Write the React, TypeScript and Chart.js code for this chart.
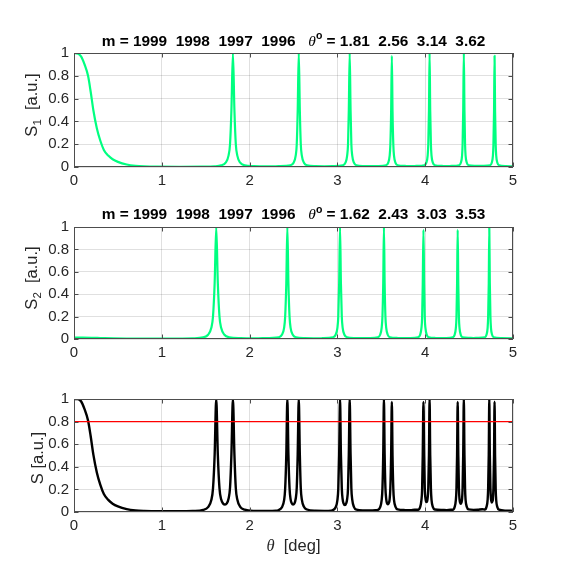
import { useEffect, useRef } from "react";
import { Chart, registerables } from "chart.js";

Chart.register(...registerables);

// ---------- data ----------
const xTicks = [0, 1, 2, 3, 4, 5];
const yTicks = [0, 0.2, 0.4, 0.6, 0.8, 1];
const modeNumbers = [1999, 1998, 1997, 1996];
const s1Angles = ["1.81", "2.56", "3.14", "3.62"];
const s2Angles = ["1.62", "2.43", "3.03", "3.53"];
const threshold = 0.8;

// S1: [theta (deg), signal]
const s1Points: [number, number][] = [
  [0, 1], [0.04, 0.995], [0.08, 0.97], [0.12, 0.9], [0.16, 0.8], [0.19, 0.66], [0.22, 0.5],
  [0.26, 0.34], [0.3, 0.23], [0.34, 0.15], [0.39, 0.1], [0.44, 0.068], [0.5, 0.045],
  [0.6, 0.022], [0.7, 0.011], [0.8, 0.006], [0.95, 0.003], [1.2, 0.002], [1.45, 0.003],
  [1.6, 0.006], [1.677, 0.015], [1.727, 0.038], [1.76, 0.1], [1.777, 0.2], [1.793, 0.5],
  [1.81, 1], [1.827, 0.5], [1.843, 0.2], [1.86, 0.1], [1.893, 0.038], [1.943, 0.015],
  [2.05, 0.007], [2.2, 0.005], [2.33, 0.007],
  [2.466, 0.015], [2.501, 0.038], [2.525, 0.1], [2.537, 0.2], [2.548, 0.5], [2.56, 1],
  [2.572, 0.5], [2.583, 0.2], [2.595, 0.1], [2.619, 0.038], [2.654, 0.015],
  [2.75, 0.007], [2.85, 0.006], [2.95, 0.007],
  [3.063, 0.015], [3.092, 0.038], [3.111, 0.1], [3.121, 0.2], [3.13, 0.5], [3.14, 1],
  [3.15, 0.5], [3.159, 0.2], [3.169, 0.1], [3.188, 0.038], [3.217, 0.015],
  [3.3, 0.008], [3.38, 0.007], [3.46, 0.008],
  [3.554, 0.015], [3.578, 0.037], [3.595, 0.097], [3.603, 0.194], [3.612, 0.485], [3.62, 0.975],
  [3.628, 0.485], [3.637, 0.194], [3.645, 0.097], [3.662, 0.037], [3.686, 0.015],
  [3.77, 0.009], [3.835, 0.008], [3.9, 0.009],
  [3.991, 0.015], [4.013, 0.038], [4.028, 0.1], [4.035, 0.2], [4.043, 0.5], [4.05, 1],
  [4.057, 0.5], [4.065, 0.2], [4.072, 0.1], [4.087, 0.038], [4.109, 0.015],
  [4.19, 0.009], [4.245, 0.008], [4.3, 0.009],
  [4.386, 0.015], [4.406, 0.038], [4.42, 0.1], [4.426, 0.2], [4.433, 0.5], [4.44, 1],
  [4.447, 0.5], [4.454, 0.2], [4.46, 0.1], [4.474, 0.038], [4.494, 0.015],
  [4.57, 0.01], [4.615, 0.009], [4.66, 0.01],
  [4.74, 0.015], [4.758, 0.037], [4.771, 0.097], [4.777, 0.194], [4.784, 0.485], [4.79, 0.975],
  [4.796, 0.485], [4.803, 0.194], [4.809, 0.097], [4.822, 0.037], [4.84, 0.015],
  [4.92, 0.008], [5, 0.006],
];

// S2: [theta (deg), signal]
const s2Points: [number, number][] = [
  [0, 0.012], [0.1, 0.012], [0.2, 0.011], [0.3, 0.009], [0.45, 0.006], [0.6, 0.004],
  [0.8, 0.003], [1.0, 0.003], [1.2, 0.004], [1.35, 0.006],
  [1.472, 0.015], [1.527, 0.038], [1.564, 0.1], [1.583, 0.2], [1.602, 0.5], [1.62, 1],
  [1.638, 0.5], [1.657, 0.2], [1.676, 0.1], [1.713, 0.038], [1.768, 0.015],
  [1.9, 0.007], [2.025, 0.005], [2.15, 0.007],
  [2.332, 0.015], [2.368, 0.038], [2.393, 0.1], [2.405, 0.2], [2.418, 0.5], [2.43, 1],
  [2.442, 0.5], [2.455, 0.2], [2.467, 0.1], [2.492, 0.038], [2.528, 0.015],
  [2.63, 0.007], [2.73, 0.006], [2.83, 0.007],
  [2.951, 0.015], [2.98, 0.038], [3.0, 0.1], [3.01, 0.2], [3.02, 0.5], [3.03, 1],
  [3.04, 0.5], [3.05, 0.2], [3.06, 0.1], [3.08, 0.038], [3.109, 0.015],
  [3.2, 0.008], [3.28, 0.007], [3.36, 0.008],
  [3.462, 0.015], [3.487, 0.038], [3.504, 0.1], [3.513, 0.2], [3.522, 0.5], [3.53, 1],
  [3.538, 0.5], [3.547, 0.2], [3.556, 0.1], [3.573, 0.038], [3.598, 0.015],
  [3.69, 0.009], [3.755, 0.008], [3.82, 0.009],
  [3.92, 0.015], [3.942, 0.037], [3.957, 0.097], [3.965, 0.194], [3.972, 0.485], [3.98, 0.975],
  [3.988, 0.485], [3.995, 0.194], [4.003, 0.097], [4.018, 0.037], [4.04, 0.015],
  [4.12, 0.009], [4.175, 0.008], [4.23, 0.009],
  [4.315, 0.015], [4.335, 0.037], [4.349, 0.097], [4.356, 0.194], [4.363, 0.485], [4.37, 0.975],
  [4.377, 0.485], [4.384, 0.194], [4.391, 0.097], [4.405, 0.037], [4.425, 0.015],
  [4.5, 0.01], [4.55, 0.009], [4.6, 0.01],
  [4.68, 0.015], [4.698, 0.038], [4.711, 0.1], [4.717, 0.2], [4.724, 0.5], [4.73, 1],
  [4.736, 0.5], [4.743, 0.2], [4.749, 0.1], [4.762, 0.038], [4.78, 0.015],
  [4.87, 0.008], [5, 0.006],
];

// S (total): [theta (deg), signal]
const sPoints: [number, number][] = [
  [0, 1], [0.04, 1], [0.08, 0.98], [0.12, 0.91], [0.16, 0.81], [0.19, 0.67], [0.22, 0.51],
  [0.26, 0.35], [0.3, 0.24], [0.34, 0.16], [0.39, 0.107], [0.44, 0.074], [0.5, 0.05],
  [0.6, 0.026], [0.7, 0.014], [0.8, 0.009], [0.95, 0.006], [1.2, 0.006], [1.35, 0.009],
  [1.472, 0.019], [1.527, 0.043], [1.564, 0.106], [1.583, 0.207], [1.602, 0.507], [1.62, 1],
  [1.638, 0.509], [1.657, 0.21], [1.676, 0.112], [1.7, 0.073], [1.72, 0.066], [1.74, 0.076],
  [1.76, 0.117], [1.777, 0.215], [1.793, 0.512], [1.81, 1], [1.827, 0.51], [1.843, 0.21],
  [1.86, 0.11], [1.893, 0.046], [1.943, 0.021], [2.05, 0.01], [2.2, 0.009], [2.3, 0.011],
  [2.332, 0.018], [2.368, 0.042], [2.393, 0.105], [2.405, 0.206], [2.418, 0.508], [2.43, 1],
  [2.442, 0.51], [2.455, 0.21], [2.467, 0.112], [2.48, 0.078], [2.495, 0.066], [2.51, 0.075],
  [2.525, 0.117], [2.537, 0.214], [2.548, 0.512], [2.56, 1], [2.572, 0.51], [2.583, 0.21],
  [2.595, 0.11], [2.619, 0.046], [2.654, 0.022], [2.75, 0.011], [2.85, 0.01], [2.93, 0.012],
  [2.951, 0.018], [2.98, 0.042], [3.0, 0.105], [3.01, 0.206], [3.02, 0.508], [3.03, 1],
  [3.04, 0.51], [3.05, 0.21], [3.06, 0.112], [3.07, 0.076], [3.085, 0.061], [3.1, 0.076],
  [3.111, 0.115], [3.121, 0.213], [3.13, 0.511], [3.14, 1], [3.15, 0.51], [3.159, 0.21],
  [3.169, 0.11], [3.188, 0.046], [3.217, 0.021], [3.3, 0.014], [3.38, 0.013], [3.44, 0.016],
  [3.462, 0.019], [3.487, 0.043], [3.504, 0.106], [3.513, 0.207], [3.522, 0.508], [3.53, 1],
  [3.538, 0.51], [3.547, 0.212], [3.556, 0.115], [3.565, 0.078], [3.575, 0.068], [3.585, 0.078],
  [3.595, 0.112], [3.603, 0.21], [3.612, 0.5], [3.62, 0.975], [3.628, 0.49], [3.637, 0.2],
  [3.645, 0.105], [3.662, 0.046], [3.686, 0.023], [3.77, 0.017], [3.835, 0.016], [3.88, 0.02],
  [3.92, 0.02], [3.942, 0.043], [3.957, 0.105], [3.965, 0.204], [3.972, 0.497], [3.98, 0.975],
  [3.988, 0.5], [3.995, 0.215], [4.005, 0.109], [4.015, 0.087], [4.025, 0.107], [4.035, 0.215],
  [4.043, 0.51], [4.05, 1], [4.057, 0.505], [4.065, 0.207], [4.072, 0.107], [4.087, 0.045],
  [4.109, 0.022], [4.19, 0.018], [4.245, 0.017], [4.29, 0.02],
  [4.315, 0.02], [4.335, 0.043], [4.349, 0.105], [4.356, 0.204], [4.363, 0.497], [4.37, 0.975],
  [4.377, 0.5], [4.384, 0.21], [4.391, 0.112], [4.398, 0.082], [4.405, 0.073], [4.412, 0.082],
  [4.42, 0.116], [4.426, 0.212], [4.433, 0.51], [4.44, 1], [4.447, 0.505], [4.454, 0.207],
  [4.46, 0.107], [4.474, 0.046], [4.494, 0.023], [4.55, 0.019], [4.6, 0.02], [4.65, 0.025],
  [4.68, 0.022], [4.698, 0.045], [4.711, 0.107], [4.717, 0.208], [4.724, 0.51], [4.73, 1],
  [4.736, 0.51], [4.743, 0.215], [4.749, 0.12], [4.753, 0.097], [4.76, 0.083], [4.767, 0.097],
  [4.771, 0.114], [4.777, 0.21], [4.784, 0.495], [4.79, 0.975], [4.796, 0.49], [4.803, 0.2],
  [4.809, 0.102], [4.822, 0.043], [4.84, 0.02], [4.92, 0.012], [5, 0.01],
];

// ---------- styling ----------
const W = 568;
const H = 576;
const PLOT_LEFT = 74;
const PLOT_RIGHT = 513;
const X_AXIS_H = 30;
const GREEN = "#00ff80";
const AXIS_COLOR = "#4d4d4d";
const TEXT_COLOR = "#262626";
const SANS = "'Liberation Sans', Arial, Helvetica, sans-serif";
const SERIF = "'Liberation Serif', 'Times New Roman', serif";

type Seg = { t: string; font: string; dy?: number };

function drawRich(ctx: CanvasRenderingContext2D, segs: Seg[], x: number, y: number, rotate: boolean, color: string) {
  ctx.save();
  ctx.translate(x, y);
  if (rotate) ctx.rotate(-Math.PI / 2);
  ctx.fillStyle = color;
  ctx.textBaseline = "alphabetic";
  ctx.textAlign = "left";
  const widths = segs.map((s) => {
    ctx.font = s.font;
    return ctx.measureText(s.t).width;
  });
  const total = widths.reduce((a, b) => a + b, 0);
  let cx = -total / 2;
  segs.forEach((s, i) => {
    ctx.font = s.font;
    ctx.fillText(s.t, cx, s.dy || 0);
    cx += widths[i];
  });
  ctx.restore();
}

type Deco = {
  title?: { segs: Seg[]; y: number };
  ylabel: { segs: Seg[]; x: number; y: number };
  xlabel?: { segs: Seg[]; y: number };
};

function decoPlugin(deco: Deco) {
  return {
    id: "deco",
    afterDraw(chart: any) {
      const ctx: CanvasRenderingContext2D = chart.ctx;
      const { left, right, top, bottom } = chart.chartArea;
      const xs = chart.scales.x;
      const ys = chart.scales.y;
      ctx.save();
      ctx.strokeStyle = AXIS_COLOR;
      ctx.lineWidth = 1;
      ctx.beginPath();
      ctx.rect(left + 0.5, top + 0.5, right - left - 1, bottom - top - 1);
      const tl = 4.5;
      xTicks.forEach((v) => {
        const px = Math.round(xs.getPixelForValue(v)) + 0.5;
        ctx.moveTo(px, bottom);
        ctx.lineTo(px, bottom - tl);
        ctx.moveTo(px, top);
        ctx.lineTo(px, top + tl);
      });
      yTicks.forEach((v) => {
        const py = Math.round(ys.getPixelForValue(v)) + 0.5;
        ctx.moveTo(left, py);
        ctx.lineTo(left + tl, py);
        ctx.moveTo(right, py);
        ctx.lineTo(right - tl, py);
      });
      ctx.stroke();
      ctx.restore();
      const cxp = (left + right) / 2;
      if (deco.title) drawRich(ctx, deco.title.segs, cxp, deco.title.y, false, "#000");
      drawRich(ctx, deco.ylabel.segs, deco.ylabel.x, deco.ylabel.y, true, TEXT_COLOR);
      if (deco.xlabel) drawRich(ctx, deco.xlabel.segs, cxp, deco.xlabel.y, false, TEXT_COLOR);
    },
  };
}

const TITLE_SIZE = 15.4;
const LABEL_SIZE = 16.5;
const BOLD = `bold ${TITLE_SIZE}px ${SANS}`;
const NORMAL = `${LABEL_SIZE}px ${SANS}`;
const SMALL = `11.5px ${SANS}`;

function titleSegs(angles: string[]): Seg[] {
  return [
    { t: "m = " + modeNumbers.join("  ") + "   ", font: BOLD },
    { t: "\u03B8", font: `italic ${TITLE_SIZE}px ${SERIF}` },
    { t: "o", font: `bold 10.5px ${SANS}`, dy: -6.5 },
    { t: " = " + angles.join("  "), font: BOLD },
  ];
}

function makeConfig(datasets: any[], top: number, bottom: number, deco: Deco) {
  const gridColor = "rgba(0,0,0,0.12)";
  const tickFont = { family: SANS, size: 15 };
  return {
    type: "line",
    data: { datasets },
    options: {
      animation: false,
      responsive: false,
      maintainAspectRatio: false,
      events: [],
      layout: { padding: { left: 0, right: W - PLOT_RIGHT, top, bottom: H - bottom - X_AXIS_H } },
      plugins: { legend: { display: false }, tooltip: { enabled: false }, title: { display: false } },
      elements: { point: { radius: 0 }, line: { borderJoinStyle: "round", borderCapStyle: "round" } },
      scales: {
        x: {
          type: "linear",
          min: 0,
          max: 5,
          afterBuildTicks: (s: any) => {
            s.ticks = xTicks.map((v) => ({ value: v }));
          },
          afterFit: (s: any) => {
            s.height = X_AXIS_H;
          },
          grid: { color: gridColor, drawTicks: false },
          border: { display: false },
          ticks: {
            font: tickFont,
            color: TEXT_COLOR,
            padding: 5,
            maxRotation: 0,
            autoSkip: false,
            callback: (v: number) => String(v),
          },
        },
        y: {
          type: "linear",
          min: 0,
          max: 1,
          afterBuildTicks: (s: any) => {
            s.ticks = yTicks.map((v) => ({ value: v }));
          },
          afterFit: (s: any) => {
            s.width = PLOT_LEFT;
          },
          grid: { color: gridColor, drawTicks: false },
          border: { display: false },
          ticks: {
            font: tickFont,
            color: TEXT_COLOR,
            padding: 5,
            autoSkip: false,
            callback: (v: number) => String(Math.round(v * 10) / 10),
          },
        },
      },
    },
    plugins: [decoPlugin(deco)],
  };
}

const toXY = (pts: [number, number][]) => pts.map(([x, y]) => ({ x, y }));

export default function App() {
  const c1 = useRef<HTMLCanvasElement>(null);
  const c2 = useRef<HTMLCanvasElement>(null);
  const c3 = useRef<HTMLCanvasElement>(null);

  useEffect(() => {
    const line = (pts: [number, number][], color: string, width: number, order: number) => ({
      data: toXY(pts),
      borderColor: color,
      borderWidth: width,
      pointRadius: 0,
      fill: false,
      cubicInterpolationMode: "monotone",
      order,
    });

    const ch1 = new Chart(
      c1.current as HTMLCanvasElement,
      makeConfig([line(s1Points, GREEN, 2.2, 0)], 53, 167, {
        title: { segs: titleSegs(s1Angles), y: 45.5 },
        ylabel: {
          segs: [
            { t: "S", font: NORMAL },
            { t: "1", font: SMALL, dy: 4 },
            { t: "  [a.u.]", font: NORMAL },
          ],
          x: 37,
          y: 105,
        },
      }) as any
    );
    const ch2 = new Chart(
      c2.current as HTMLCanvasElement,
      makeConfig([line(s2Points, GREEN, 2.2, 0)], 227, 339, {
        title: { segs: titleSegs(s2Angles), y: 219 },
        ylabel: {
          segs: [
            { t: "S", font: NORMAL },
            { t: "2", font: SMALL, dy: 4 },
            { t: "  [a.u.]", font: NORMAL },
          ],
          x: 37,
          y: 278,
        },
      }) as any
    );
    const ch3 = new Chart(
      c3.current as HTMLCanvasElement,
      makeConfig(
        [
          { data: [{ x: 0, y: threshold }, { x: 5, y: threshold }], borderColor: "#ff0000", borderWidth: 1.3, pointRadius: 0, fill: false, order: 0 },
          line(sPoints, "#000000", 2.4, 1),
        ],
        399,
        512,
        {
          ylabel: { segs: [{ t: "S [a.u.]", font: NORMAL }], x: 43, y: 458 },
          xlabel: {
            segs: [
              { t: "\u03B8", font: `italic ${LABEL_SIZE}px ${SERIF}` },
              { t: "  [deg]", font: NORMAL },
            ],
            y: 551,
          },
        }
      ) as any
    );
    return () => {
      ch1.destroy();
      ch2.destroy();
      ch3.destroy();
    };
  }, []);

  const cs: any = { position: "absolute", left: 0, top: 0, width: W, height: H };
  return (
    <div style={{ position: "absolute", left: 0, top: 0, width: W, height: H, background: "#fff" }}>
      <canvas ref={c1} width={W} height={H} style={cs} />
      <canvas ref={c2} width={W} height={H} style={cs} />
      <canvas ref={c3} width={W} height={H} style={cs} />
    </div>
  );
}
